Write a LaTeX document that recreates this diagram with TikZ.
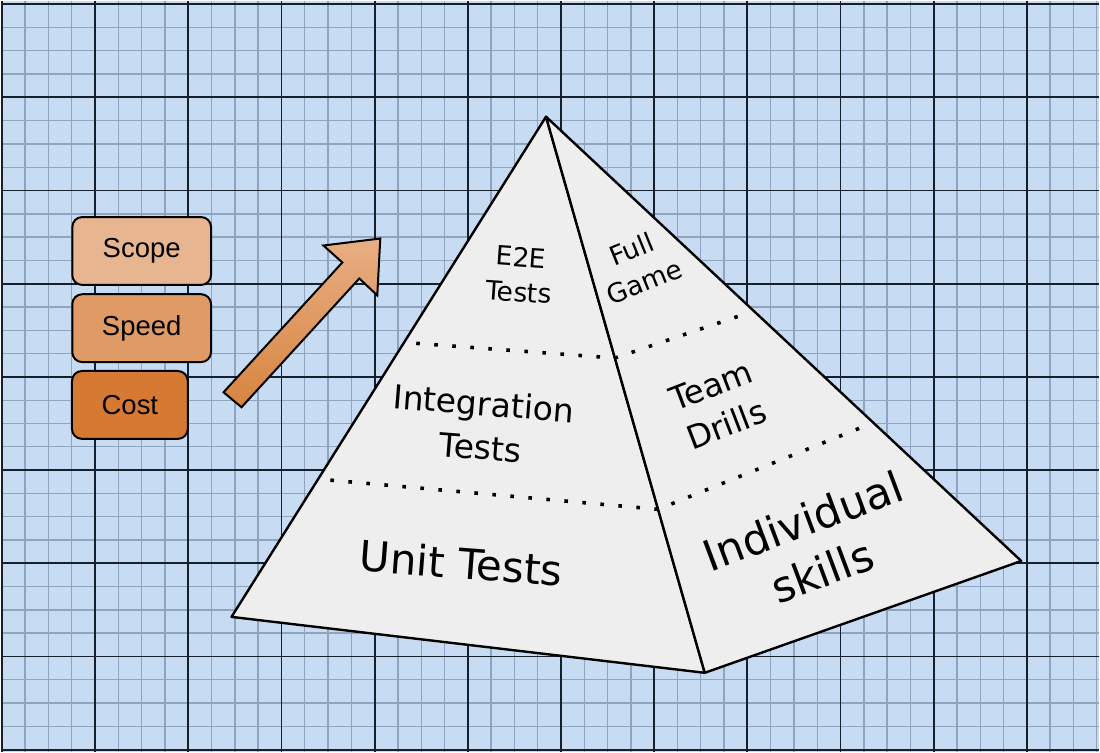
\documentclass[tikz,border=0pt]{standalone}
\usepackage{fontspec}
\setmainfont{DejaVu Sans}
\newfontfamily\labelfont{Liberation Sans}
\usetikzlibrary{calc}
\definecolor{paper}{HTML}{C7DCF3}
\definecolor{minorline}{HTML}{8EA4BF}
\definecolor{majorline}{HTML}{15202E}
\definecolor{face}{HTML}{EEEEEE}
\definecolor{scopefill}{HTML}{E7B590}
\definecolor{speedfill}{HTML}{DF9A66}
\definecolor{costfill}{HTML}{D67A33}
\definecolor{arrowlight}{HTML}{E8AE84}
\definecolor{arrowdark}{HTML}{D7843F}
\begin{document}
\begin{tikzpicture}[x=1pt,y=-1pt,
  facet/.style={fill=face,draw=black,line width=2.4pt,line join=round},
  layerline/.style={draw=black,line width=3.6pt,dash pattern=on 3.6pt off 14.5pt},
  factor/.style={draw=black,line width=2pt,rounded corners=10pt,minimum height=68pt,
    inner sep=0pt,font=\labelfont\fontsize{27.5}{32}\selectfont,text=black},
  tier/.style={align=center,text=black,inner sep=0pt}]

% graph paper background: four minor cells per major cell
\fill[paper] (0,0) rectangle (1100,752);
\foreach \i in {0,...,47}{
  \pgfmathsetmacro{\gx}{1+23.333*\i}
  \draw[minorline,line width=1.4pt] (\gx,0) -- (\gx,752);
}
\foreach \j in {0,...,32}{
  \pgfmathsetmacro{\gy}{3.3+23.333*\j}
  \draw[minorline,line width=1.4pt] (0,\gy) -- (1100,\gy);
}
\foreach \i in {0,...,11}{
  \pgfmathsetmacro{\gx}{1+93.333*\i}
  \draw[majorline,line width=1.8pt] (\gx,0) -- (\gx,752);
}
\foreach \j in {0,...,8}{
  \pgfmathsetmacro{\gy}{3.3+93.333*\j}
  \draw[majorline,line width=1.8pt] (0,\gy) -- (1100,\gy);
}

% factor boxes
\node[factor,fill=scopefill,minimum width=139pt] (scope) at (141,250.5) {Scope};
\node[factor,fill=speedfill,minimum width=139pt] (speed) at (141,327.8) {Speed};
\node[factor,fill=costfill,minimum width=116pt] (cost) at (129.2,404.7) {Cost};

% rising block arrow
\filldraw[draw=black,line width=2pt,line join=miter,top color=arrowlight,bottom color=arrowdark]
  (380,238) -- (377,295) -- (359,278) -- (241,407) -- (223,392) -- (342,262) -- (323,245) -- cycle;

% pyramid
\coordinate (apex) at (546,116);
\coordinate (baseL) at (231,617);
\coordinate (baseF) at (705,673);
\coordinate (baseR) at (1022,561);
\filldraw[facet] (apex) -- (baseL) -- (baseF) -- cycle;
\filldraw[facet] (apex) -- (baseF) -- (baseR) -- cycle;

% layer boundaries
\coordinate (upL) at (416,343);
\coordinate (upM) at ($(apex)!0.434!(baseF)$);
\coordinate (upR) at (750,312);
\coordinate (loL) at (330,480);
\coordinate (loM) at ($(apex)!0.706!(baseF)$);
\coordinate (loR) at (870,424);
\draw[layerline] (upL) -- (upM) -- (upR);
\draw[layerline] (loL) -- (loM) -- (loR);

% layer labels
\node[tier,font=\fontsize{26.5}{35}\selectfont,rotate=-4] (e2e) at (520,274) {E2E\\Tests};
\node[tier,font=\fontsize{33}{44}\selectfont,rotate=-4.5] (integ) at (482,425) {Integration\\Tests};
\node[tier,font=\fontsize{42}{48}\selectfont,rotate=-4.4] (unit) at (461,563) {Unit Tests};
\node[tier,font=\fontsize{26.5}{35}\selectfont,rotate=22] (game) at (638,265) {Full\\Game};
\node[tier,font=\fontsize{32.5}{42}\selectfont,rotate=21] (drills) at (719,405) {Team\\Drills};
\node[tier,font=\fontsize{43}{54}\selectfont,rotate=20.5] (skills) at (813,546) {Individual\\skills};
\end{tikzpicture}
\end{document}
